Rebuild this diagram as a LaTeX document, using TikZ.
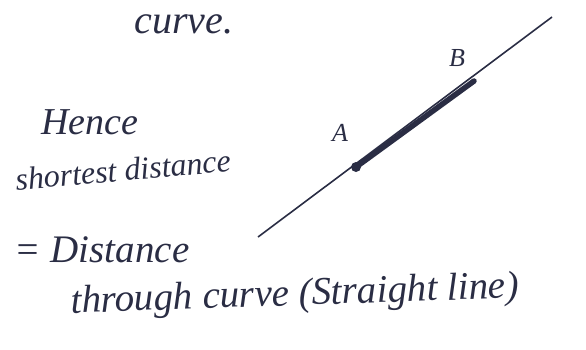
\documentclass[tikz,border=0pt]{standalone}
\usepackage{fontspec}
\setmainfont{Liberation Serif}
\begin{document}
\begin{tikzpicture}[x=1pt,y=-1pt,
  hand/.style={inner sep=0pt, text=ink, font=\itshape},
  thinline/.style={draw=ink, line width=1.6pt},
  thickline/.style={draw=ink, line width=5.5pt, line cap=round}]
\definecolor{ink}{HTML}{2A2D44}
\useasboundingbox (0,0) rectangle (586,349);
\node[hand, font=\itshape\fontsize{40}{42}\selectfont] (curve) at (184,24) {curve.};
\node[hand, font=\itshape\fontsize{38}{40}\selectfont] (hence) at (90,122) {Hence};
\node[hand, font=\itshape\fontsize{32}{34}\selectfont, rotate=5] (short) at (123,170) {shortest distance};
\node[hand, font=\itshape\fontsize{39}{42}\selectfont] (dist) at (102,250) {= Distance};
\node[hand, font=\itshape\fontsize{39}{42}\selectfont, rotate=2] (thru) at (295,296) {through curve (Straight line)};
\coordinate (P) at (258,237);
\coordinate (Q) at (552,17);
\coordinate (A) at (356,167);
\coordinate (B) at (474,81);
\draw[thinline] (P) -- (Q);
\draw[thickline] (A) -- (B);
\fill[ink] (A) circle (5pt);
\node[hand, font=\itshape\fontsize{26}{28}\selectfont] (la) at (340,133) {A};
\node[hand, font=\itshape\fontsize{26}{28}\selectfont] (lb) at (457,58) {B};
\end{tikzpicture}
\end{document}
